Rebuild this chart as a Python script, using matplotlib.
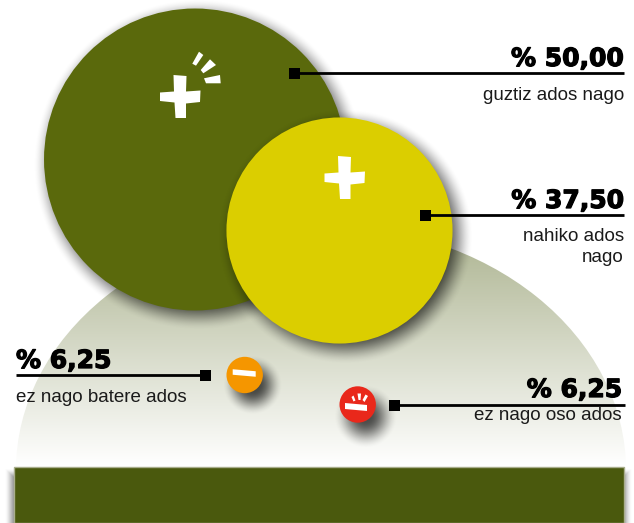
import numpy as np
import matplotlib
matplotlib.use('Agg')
import matplotlib.pyplot as plt
from matplotlib.patches import Circle, Ellipse, Polygon, Rectangle
import matplotlib.patheffects as pe

# data
values = [50.00, 37.50, 6.25, 6.25]
value_labels = ['% 50,00', '% 37,50', '% 6,25', '% 6,25']
answers = ['guztiz ados nago', 'nahiko ados\nnago', 'ez nago batere ados', 'ez nago oso ados']

W, H = 634, 523
circle_colors = ['#5a690c', '#dbce00', '#f59600', '#e9281b']
centers = [(195, 159.5), (339.5, 230.5), (244.7, 375), (357.7, 404.5)]
shadow_shift = [(4, 5), (6, 6), (8, 10), (8, 12)]
shadow_blur = [15, 15, 12, 14]
# square x, line y, line end x, label x, align, value baseline, answer y
leaders = [(294, 73, 624, 624, 'right', 66, 95.5),
           (425, 215, 624, 624, 'right', 208, 247),
           (205, 375, 16, 16, 'left', 368, 397.5),
           (394, 405, 625, 622, 'right', 397, 415)]

plt.rcParams['font.family'] = ['Liberation Sans', 'DejaVu Sans']
fig = plt.figure(figsize=(W / 100, H / 100), dpi=100)
ax = fig.add_axes([0, 0, 1, 1])
ax.set_xlim(0, W)
ax.set_ylim(H, 0)
ax.axis('off')

yy, xx = np.mgrid[0:H, 0:W] + 0.5


def radius(val):
    return 3.035 * val - 0.77


def draw_shadow(dist, blur, strength, z):
    # dist is signed distance from the shadow edge, negative inside
    a = np.clip(0.5 - dist / (2 * blur), 0, 1)
    a = a * a * (3 - 2 * a) * strength
    rgba = np.zeros((H, W, 4))
    rgba[..., 3] = a
    ax.imshow(rgba, extent=(0, W, H, 0), zorder=z, interpolation='bilinear', aspect='auto')


# dome with vertical fade
top = np.array(matplotlib.colors.to_rgb('#b0b795'))
t = np.clip((np.arange(H) - 240) / 225, 0, 1)[:, None, None]
grad = np.tile(top + (1 - top) * t, (1, W, 1))
im = ax.imshow(grad, extent=(0, W, H, 0), zorder=1, aspect='auto')
dome = Ellipse((321, 470), 610, 490, transform=ax.transData, fc='none', ec='none')
ax.add_patch(dome)
im.set_clip_path(dome)

# bottom band
bx0, bx1, by0, by1 = 13.5, 623.5, 467, 523
d = np.maximum(np.maximum(bx0 - 2 - xx, xx - bx1 - 2), np.maximum(by0 + 8 - yy, yy - by1 - 20))
draw_shadow(d, 7, 0.55, 2)
ax.add_patch(Rectangle((bx0, by0), bx1 - bx0, by1 - by0, fc='#4a590d', ec='#a9ae8d', lw=1, zorder=3))

# circles, biggest first, each with its own soft shadow
for i, (val, col, c) in enumerate(zip(values, circle_colors, centers)):
    r = radius(val)
    sx, sy = shadow_shift[i]
    d = np.hypot(xx - c[0] - sx, yy - c[1] - sy) - r
    draw_shadow(d, shadow_blur[i], 0.68, 4 + i * 2)
    ax.add_patch(Circle(c, r, fc=col, ec='none', zorder=5 + i * 2))


def plus(cx, cy, z=14):
    pts = [(-7, -21.5), (6, -20.5), (5.5, -5), (20, -6), (19.5, 5.5), (5.5, 7), (5.5, 21.5), (-5, 21.5),
           (-6, 6), (-20.5, 4.5), (-20.5, -4), (-6.5, -5)]
    ax.add_patch(Polygon([(cx + a, cy + b) for a, b in pts], fc='white', ec='none', zorder=z))


def bar_glyph(cx, cy, w, h, tilt, z=14):
    pts = [(-w / 2, -h / 2 - tilt), (w / 2, -h / 2 + tilt), (w / 2, h / 2 + tilt), (-w / 2, h / 2 - tilt)]
    ax.add_patch(Polygon([(cx + a, cy + b) for a, b in pts], fc='white', ec='none', zorder=z))


def rays(polys, z=14):
    for p in polys:
        ax.add_patch(Polygon(p, fc='white', ec='none', zorder=z))


plus(180.5, 96.5)
rays([[(192.3, 63.7), (199, 51.7), (203.3, 55), (196, 65.7)],
      [(200.7, 70), (210, 59.3), (216, 65), (203.3, 73.3)],
      [(204, 78.3), (220, 75), (220.7, 83.3), (206, 83.3)]])
plus(345, 177.5)
bar_glyph(244.2, 373, 23, 5.5, 1)
bar_glyph(356, 407, 22, 6, 1)
rays([[(351.5, 397), (353.5, 395.5), (355.5, 400.5), (353.5, 401.5)],
      [(357.5, 393.5), (361, 393.5), (360.5, 400), (358.5, 400)],
      [(362.5, 400), (365.5, 394.5), (368, 396), (364.5, 402)]])

# leader lines and labels
for (sqx, ly, end, tx, ha, vy, ay), vlab, ans in zip(leaders, value_labels, answers):
    ax.plot([sqx, end], [ly, ly], color='black', lw=2.0, solid_capstyle='butt', zorder=15)
    ax.add_patch(Rectangle((sqx - 5.5, ly - 5.5), 11, 11, fc='black', ec='none', zorder=16))
    ax.text(tx, vy, vlab, ha=ha, va='baseline', fontsize=18, family='DejaVu Sans', fontweight='bold', color='black',
            zorder=17, path_effects=[pe.withStroke(linewidth=0.9, foreground='black')])
    ax.text(tx, ay, ans, ha=ha, va='center', fontsize=13.5, color='#1a1a1a', zorder=17, linespacing=1.38)

fig.savefig('out.png', dpi=100)
